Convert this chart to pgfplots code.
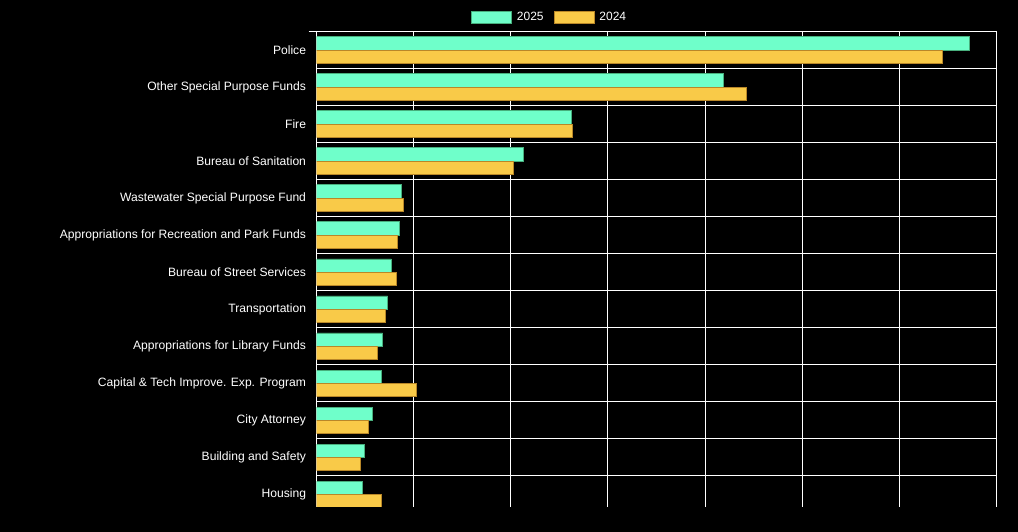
\documentclass[border=0pt]{standalone}
\usepackage{fontspec}
\setmainfont{Liberation Sans}
\usepackage{pgfplots}
\pgfplotsset{compat=1.18}
\definecolor{c25}{RGB}{111,255,202}
\definecolor{c25b}{RGB}{72,175,125}
\definecolor{c24}{RGB}{249,202,72}
\definecolor{c24b}{RGB}{185,135,40}
\begin{document}
\begin{tikzpicture}[x=1pt,y=1pt]
\fill[black] (0,0) rectangle (1018,532);
\begin{axis}[
  at={(316.7pt,25pt)}, anchor=south west,
  scale only axis, width=679.6pt, height=475.5pt,
  xmin=0, xmax=7, ymin=-0.34, ymax=12.5,
  xbar, bar width=13.3pt,
  axis line style={draw=none},
  xtick={0,...,7}, xticklabels={}, xmajorgrids,
  ytick={0.5,1.5,...,12.5}, yticklabels={}, ymajorgrids,
  grid style={white, line width=1pt},
  y grid style={white, line width=1pt, shorten <=-8pt},
  tick align=outside, tick pos=left,
  major tick length=8pt,
  xtick style={/pgfplots/major tick length=0pt, draw=none},
  ytick style={draw=none},
  extra y ticks={0,...,12},
  extra y tick labels={{Housing},{Building and Safety},{City Attorney},{Capital \& Tech Improve. Exp. Program},{Appropriations for Library Funds},{Transportation},{Bureau of Street Services},{Appropriations for Recreation and Park Funds},{Wastewater Special Purpose Fund},{Bureau of Sanitation},{Fire},{Other Special Purpose Funds},{Police}},
  extra y tick style={grid=none, /pgfplots/major tick length=0pt, tick style={draw=none}},
  yticklabel style={text=white, font=\fontsize{12.1}{14}\selectfont, inner sep=0pt, xshift=-10.5pt},
  legend style={at={(0.227,1.045)}, anchor=north west, draw=none, fill=none,
    text=white, font=\fontsize{12}{14}\selectfont, inner sep=0pt,
    /tikz/every odd column/.append style={column sep=3pt},
    /tikz/every even column/.append style={column sep=8pt}},
  legend columns=2,
  legend image code/.code={\draw[#1] (0pt,-6pt) rectangle (40pt,6pt);},
]
\addplot[fill=c25, draw=c25b, line width=0.8pt, bar shift=6.65pt] coordinates {
  (0.47,0) (0.49,1) (0.57,2) (0.67,3) (0.68,4) (0.73,5) (0.77,6)
  (0.85,7) (0.87,8) (2.13,9) (2.62,10) (4.19,11) (6.72,12)};
\addlegendentry{2025}
\addplot[fill=c24, draw=c24b, line width=0.8pt, bar shift=-6.65pt] coordinates {
  (0.67,0) (0.45,1) (0.53,2) (1.03,3) (0.63,4) (0.71,5) (0.82,6)
  (0.83,7) (0.89,8) (2.03,9) (2.63,10) (4.43,11) (6.44,12)};
\addlegendentry{2024}
\end{axis}
\end{tikzpicture}
\end{document}
